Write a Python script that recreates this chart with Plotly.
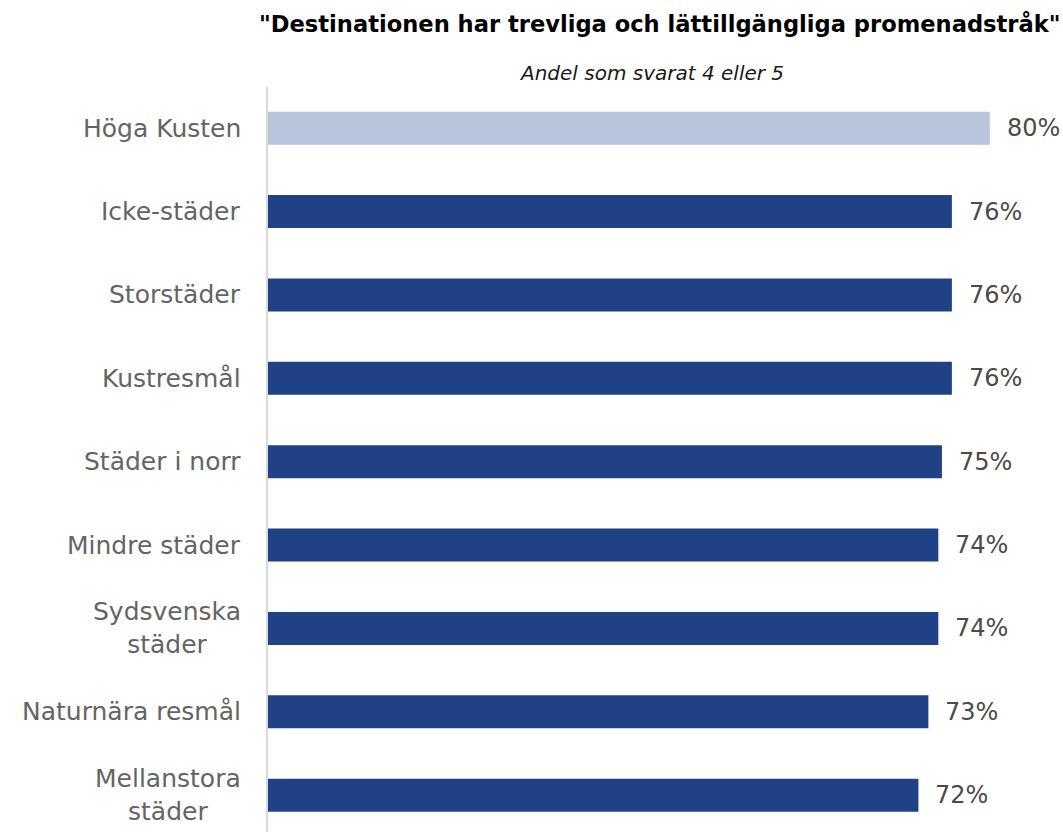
import plotly.graph_objects as go

categories = ["Höga Kusten", "Icke-städer", "Storstäder", "Kustresmål", "Städer i norr",
              "Mindre städer", "Sydsvenska<br>städer", "Naturnära resmål", "Mellanstora<br>städer"]
values = [79.9, 75.7, 75.7, 75.7, 74.6, 74.2, 74.2, 73.1, 72.0]
value_labels = ["80%", "76%", "76%", "76%", "75%", "74%", "74%", "73%", "72%"]
highlight = "Höga Kusten"

title_text = "\"Destinationen har trevliga och lättillgängliga promenadstråk\""
subtitle_text = "Andel som svarat 4 eller 5"

LIGHT = "#B9C5DA"
DARK = "#1F4287"
FONT = "DejaVu Sans"

ypos = list(range(len(categories)))
colors = [LIGHT if c == highlight else DARK for c in categories]

fig = go.Figure()
fig.add_trace(go.Bar(
    x=values, y=ypos, orientation="h", width=0.396,
    marker=dict(color=colors, line=dict(width=0)),
    hoverinfo="skip", showlegend=False,
))

annotations = []
for c, y in zip(categories, ypos):
    annotations.append(dict(
        x=0, xref="paper", y=y, yref="y", text=c, showarrow=False,
        xanchor="right", yanchor="middle", align="center", xshift=-25,
        font=dict(family=FONT, size=25, color="#646464"),
    ))
for v, lab, y in zip(values, value_labels, ypos):
    annotations.append(dict(
        x=v, xref="x", y=y, yref="y", text=lab, showarrow=False,
        xanchor="left", yanchor="middle", xshift=15,
        font=dict(family=FONT, size=24, color="#4a4a4a"),
    ))
annotations.append(dict(
    x=660, xref="paper", y=24, yref="paper", text="<b>" + title_text + "</b>",
    showarrow=False, xanchor="center", yanchor="middle",
    font=dict(family=FONT, size=22.6, color="#000000"),
))
annotations.append(dict(
    x=651, xref="paper", y=73, yref="paper", text="<i>" + subtitle_text + "</i>",
    showarrow=False, xanchor="center", yanchor="middle",
    font=dict(family=FONT, size=20, color="#1a1a1a"),
))

W, H = 1063, 832
L, T = 268, 87
pw, ph = W - L, H - T
# convert pixel positions of title/subtitle to paper coords
for a in annotations[-2:]:
    a["x"] = (a["x"] - L) / pw
    a["y"] = (H - a["y"]) / ph

fig.update_layout(
    width=W, height=H,
    margin=dict(l=L, r=0, t=T, b=0, pad=0),
    paper_bgcolor="white", plot_bgcolor="white",
    xaxis=dict(range=[0, 88.0], visible=False, showgrid=False, zeroline=False),
    yaxis=dict(range=[8.442, -0.494], showticklabels=False, showgrid=False, zeroline=False,
               showline=True, linecolor="#D9D9D9", linewidth=2, ticks=""),
    annotations=annotations,
)
fig.write_html("out.html", config={"displayModeBar": False},
               post_script="document.body.style.margin='0';document.body.style.overflow='hidden';")
